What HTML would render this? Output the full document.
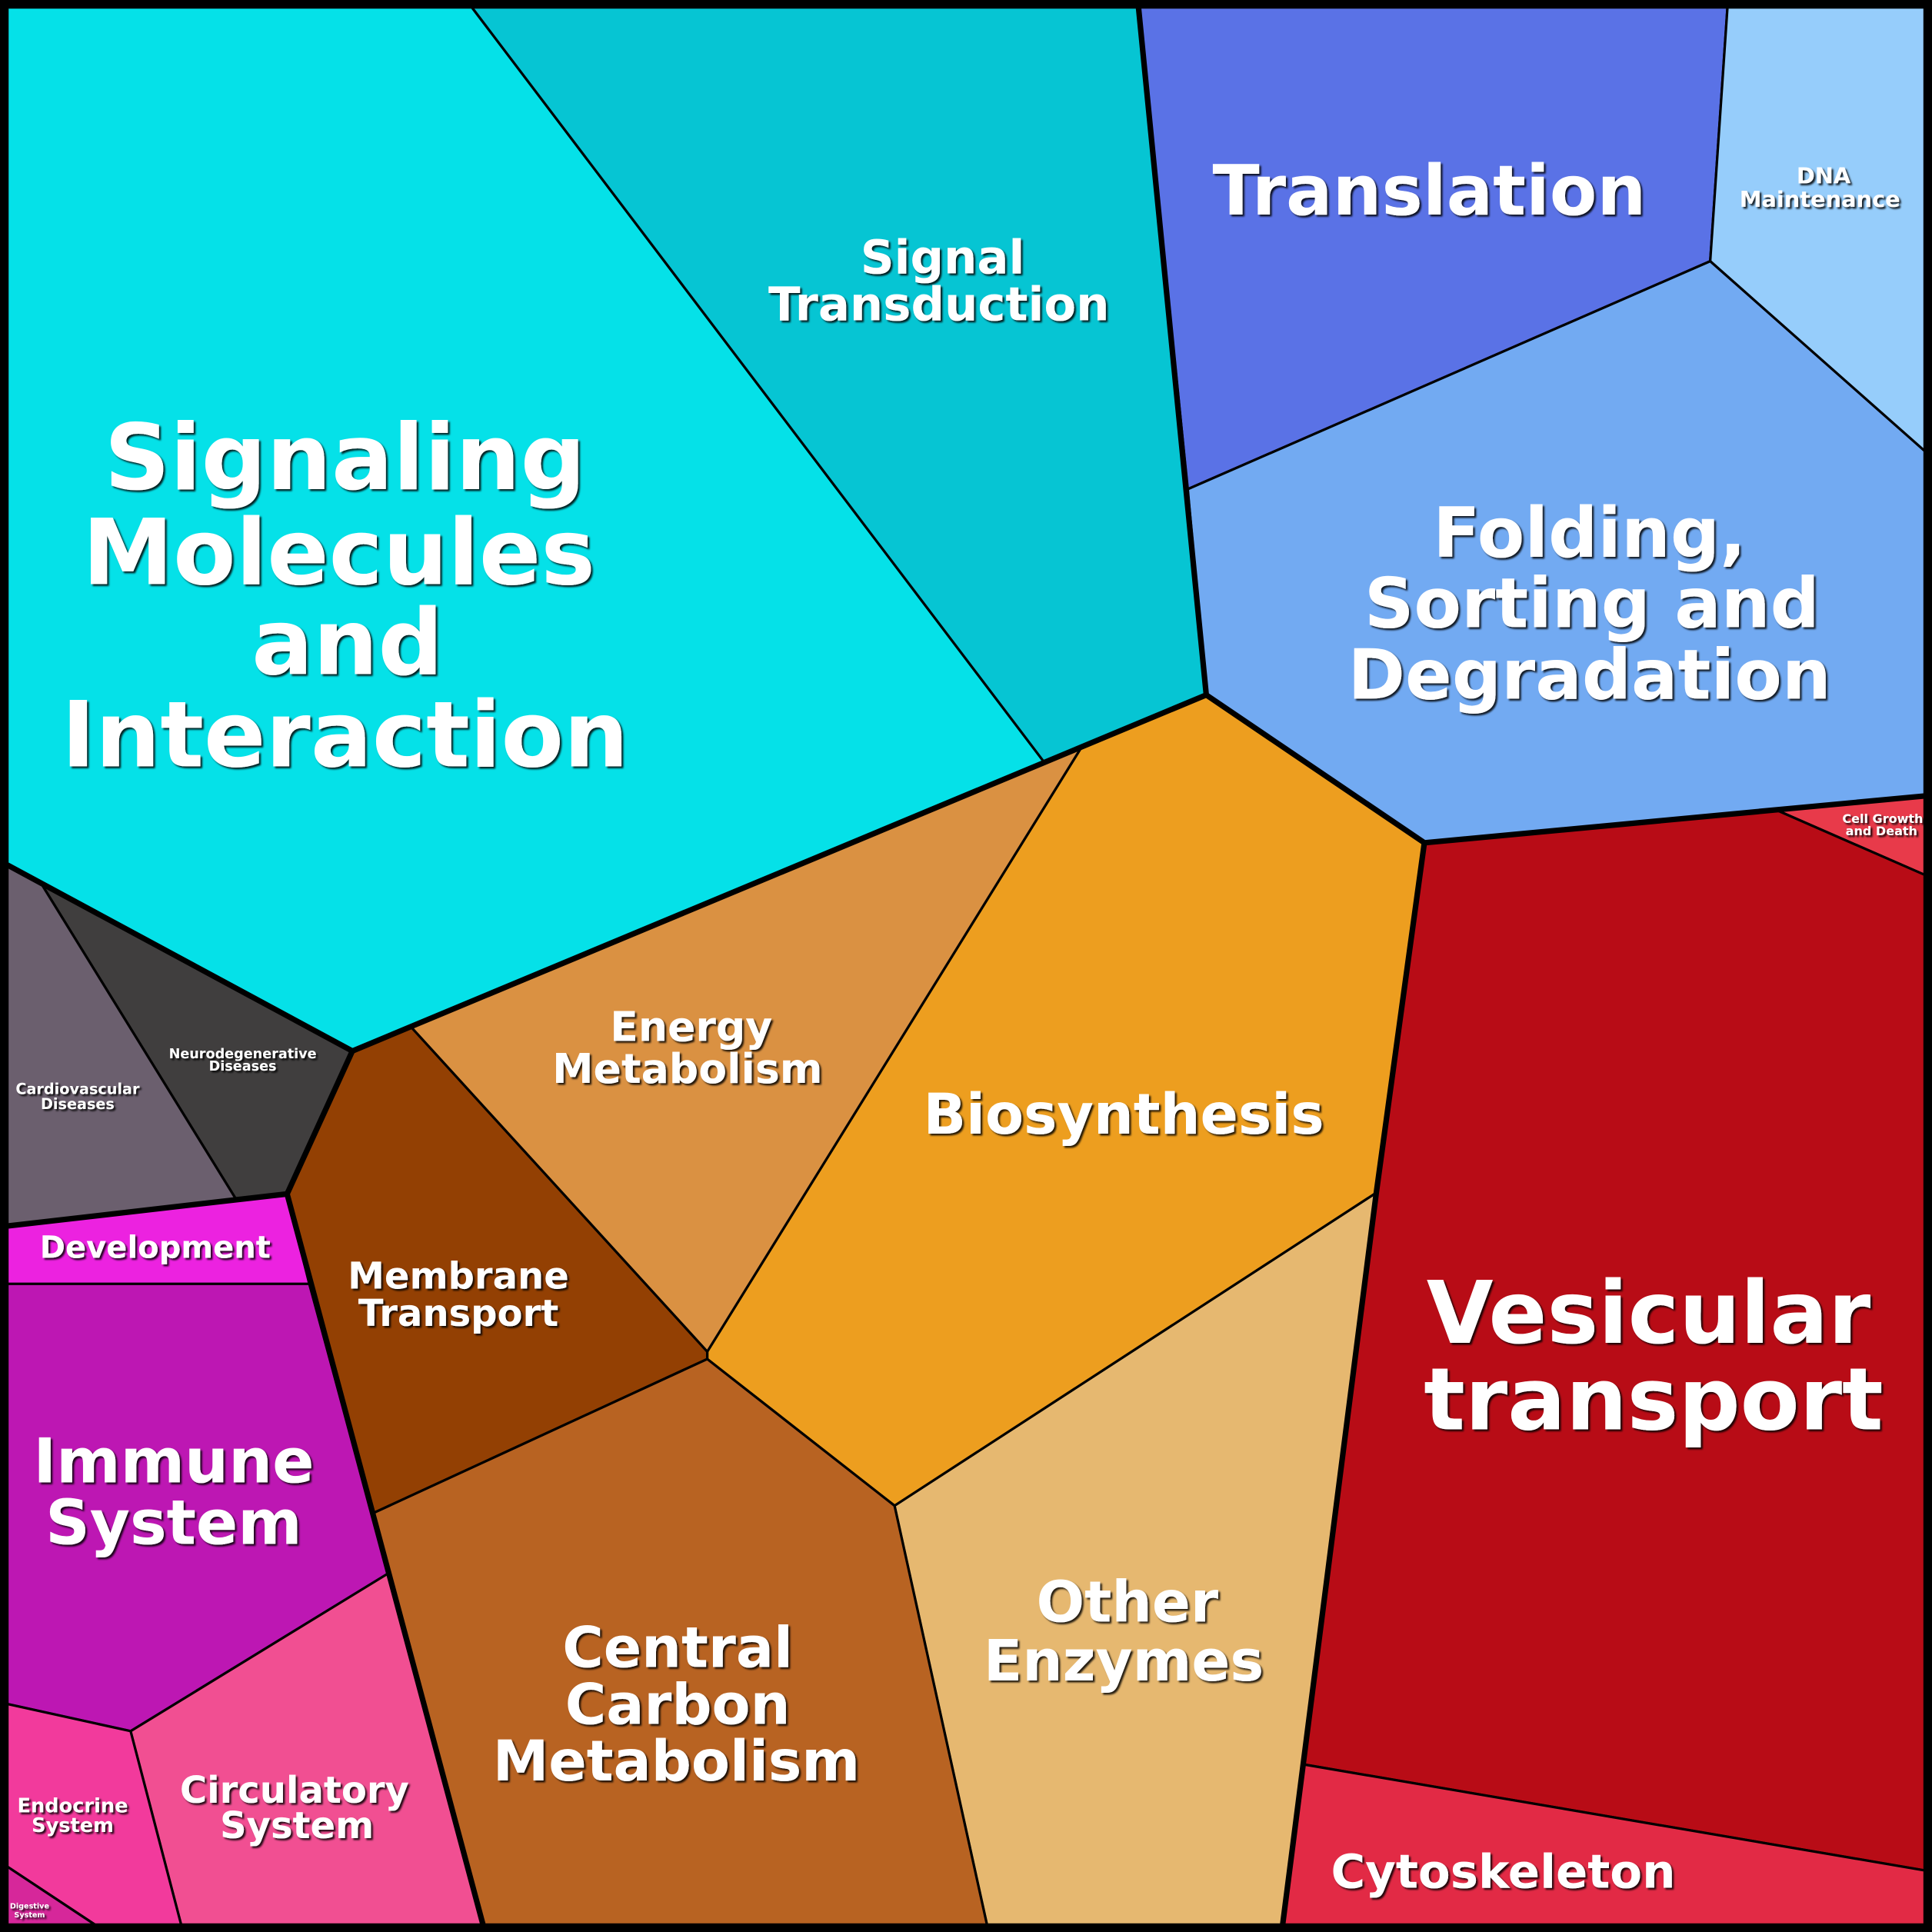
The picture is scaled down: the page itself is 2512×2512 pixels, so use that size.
<!DOCTYPE html>
<html><head><meta charset="utf-8"><style>
html,body{margin:0;padding:0;background:#000}
svg{display:block}
text{font-family:"DejaVu Sans","Liberation Sans",sans-serif;font-weight:bold;fill:#fff;text-anchor:middle}
</style></head><body>
<svg width="2512" height="2512" viewBox="0 0 1568 1568" xmlns="http://www.w3.org/2000/svg">
<defs><filter id="sh" x="-10%" y="-10%" width="120%" height="130%"><feDropShadow dx="1.5" dy="1.5" stdDeviation="0.6" flood-color="#000" flood-opacity="0.85"/></filter></defs>
<rect x="0" y="0" width="1568" height="1568" fill="#000"/>
<g stroke="#000" stroke-width="2" stroke-linejoin="round">
<polygon fill="#05e1e8" points="6,6 383,6 847,618 286,853 6,702"/>
<polygon fill="#06c5d3" points="383,6 924,6 979,564 847,618"/>
<polygon fill="#5a72e6" points="924,6 1402,6 1388,212 964,397"/>
<polygon fill="#96cdfb" points="1402,6 1562,6 1562,366 1388,212"/>
<polygon fill="#72aaf2" points="964,397 1388,212 1562,366 1562,646 1443,658 1156,684 979,564"/>
<polygon fill="#e83a4a" points="1443,658 1562,646 1562,710"/>
<polygon fill="#b80c16" points="1156,684 1443,658 1562,710 1562,1518 1058,1432 1117,968"/>
<polygon fill="#e22a45" points="1058,1432 1562,1518 1562,1562 1041,1562"/>
<polygon fill="#e6b870" points="726,1222 1117,968 1058,1432 1041,1562 801,1562"/>
<polygon fill="#ed9e1f" points="878,606 979,564 1156,684 1117,968 726,1222 574,1103 574,1097"/>
<polygon fill="#da9142" points="334,834 847,618 878,606 574,1097"/>
<polygon fill="#934003" points="286,853 334,834 574,1097 574,1103 303,1228 233,969"/>
<polygon fill="#b86322" points="303,1228 574,1103 726,1222 801,1562 392,1562"/>
<polygon fill="#403e3e" points="6,702 286,853 233,969 192,974 34,718"/>
<polygon fill="#6b5f6e" points="6,702 34,718 192,974 6,995"/>
<polygon fill="#ec22e0" points="6,995 233,969 251,1042 6,1042"/>
<polygon fill="#bd17b3" points="6,1042 251,1042 315,1277 106,1405 6,1383"/>
<polygon fill="#f14f92" points="106,1405 315,1277 392,1562 147,1562"/>
<polygon fill="#f23a9c" points="6,1383 106,1405 147,1562 77,1562 6,1515"/>
<polygon fill="#d6279a" points="6,1515 77,1562 6,1562"/>
</g>
<g stroke="#000" stroke-width="4.5" fill="none" stroke-linejoin="round">
<polyline points="6,702 286,853 979,564"/>
<polyline points="924,6 979,564 1156,684 1562,646"/>
<polyline points="1156,684 1117,968 1041,1562"/>
<polyline points="286,853 233,969 392,1562"/>
<polyline points="6,995 233,969"/>
<rect x="3" y="3" width="1562" height="1562"/>
</g>
<g filter="url(#sh)">
<text font-size="74" x="280" y="397">Signaling</text>
<text font-size="74" x="275" y="474">Molecules</text>
<text font-size="74" x="282" y="547">and</text>
<text font-size="74" x="280" y="622">Interaction</text>
<text font-size="38" x="765" y="222">Signal</text>
<text font-size="38" x="762" y="260">Transduction</text>
<text font-size="56" x="1160" y="174">Translation</text>
<text font-size="18" x="1480" y="149">DNA</text>
<text font-size="18" x="1477" y="168">Maintenance</text>
<text font-size="56" x="1290" y="452">Folding,</text>
<text font-size="56" x="1292" y="509">Sorting and</text>
<text font-size="56" x="1290" y="567">Degradation</text>
<text font-size="10" x="1528" y="668">Cell Growth</text>
<text font-size="10" x="1527" y="678">and Death</text>
<text font-size="70" x="1338" y="1090">Vesicular</text>
<text font-size="70" x="1342" y="1160">transport</text>
<text font-size="38" x="1220" y="1532">Cytoskeleton</text>
<text font-size="46" x="915" y="1316">Other</text>
<text font-size="46" x="912" y="1364">Enzymes</text>
<text font-size="45.5" x="912" y="920">Biosynthesis</text>
<text font-size="33.5" x="561" y="845">Energy</text>
<text font-size="33.5" x="558" y="879">Metabolism</text>
<text font-size="30" x="372" y="1046">Membrane</text>
<text font-size="30" x="372" y="1076">Transport</text>
<text font-size="45.5" x="550" y="1353">Central</text>
<text font-size="45.5" x="550" y="1399">Carbon</text>
<text font-size="45.5" x="549" y="1445">Metabolism</text>
<text font-size="11" x="197" y="859">Neurodegenerative</text>
<text font-size="11" x="197" y="869">Diseases</text>
<text font-size="12" x="63" y="888">Cardiovascular</text>
<text font-size="12" x="63" y="900">Diseases</text>
<text font-size="25" x="126" y="1021">Development</text>
<text font-size="50" x="141" y="1203">Immune</text>
<text font-size="50" x="141" y="1253">System</text>
<text font-size="30" x="239" y="1463">Circulatory</text>
<text font-size="30" x="241" y="1492">System</text>
<text font-size="16" x="59" y="1471">Endocrine</text>
<text font-size="16" x="59" y="1487">System</text>
<text font-size="6" x="24" y="1549">Digestive</text>
<text font-size="6" x="24" y="1556">System</text>
</g>
</svg>
</body></html>
